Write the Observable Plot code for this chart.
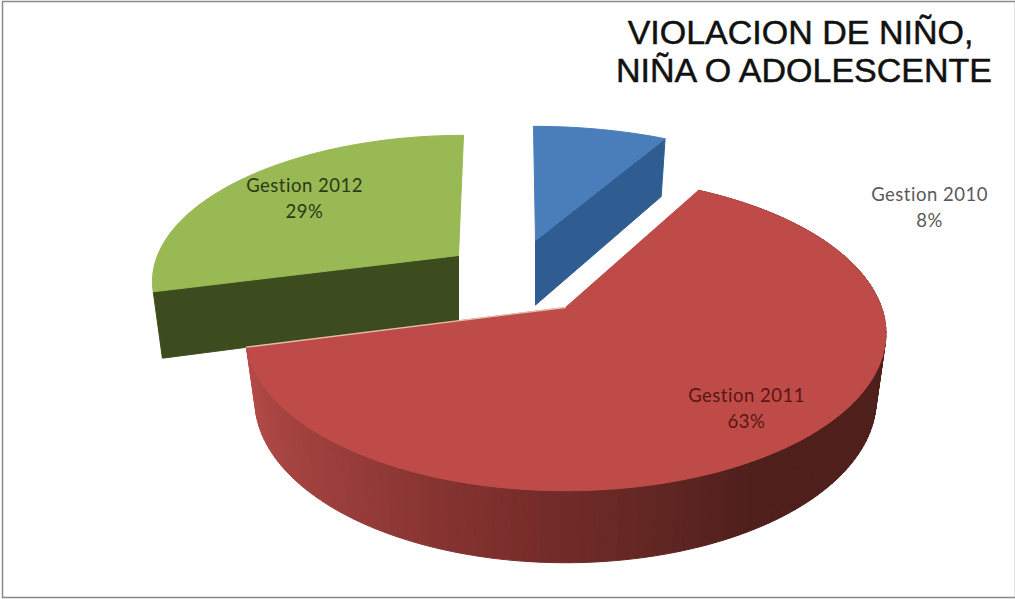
<!DOCTYPE html>
<html>
<head>
<meta charset="utf-8">
<script src="https://cdn.jsdelivr.net/npm/d3@7"></script>
<script src="https://cdn.jsdelivr.net/npm/@observablehq/plot@0.6"></script>
<style>
  html, body { margin: 0; padding: 0; background: #fff; }
  svg { display: block; }
  .slice-label text, .slice-label { letter-spacing: 0.5px; font-variant-ligatures: none; }
</style>
</head>
<body>
<div id="chart"></div>
<script>
// Data
const categories = ["Gestion 2010", "Gestion 2011", "Gestion 2012"];
const values = [8, 63, 29];
const titleLines = ["VIOLACION DE NIÑO,", "NIÑA O ADOLESCENTE"];

// Appearance of the exploded perspective pie
const topColors = ["#4a7ebb", "#be4b48", "#98b954"];
const sideColors = ["#2f5d92", "#b54a47", "#3d4c1f"];
const labelColors = ["#595959", "#5a1612", "#2b3a12"];
const sliceCx = [535, 565, 458];
const sliceCy = [240, 307, 255];
const sliceRx = [312, 316, 301];
const sliceRy = [133, 153, 140];
const sliceSkew = [-2, 0, 5];
const labelX = [929, 746, 304];
const labelY = [195, 396, 186];
const wallStops = [255, 220, 190, 165, 150];
const wallShades = ["#b54a47", "#9a3e3b", "#7b2e2b", "#5f2622", "#4f1f1b"];
const perspective = 0.165;

const arcs = d3.pie().sort(null).startAngle(0).endAngle(2 * Math.PI)(values);
const wallColor = d3.scaleLinear().domain(wallStops).range(wallShades).clamp(true);

function topPoint(i, a, r = 1) {
  const u = r * Math.sin(a), v = r * Math.cos(a), s = 1 / (1 + perspective * v);
  return [sliceCx[i] + sliceRx[i] * u * s + sliceSkew[i] * v, sliceCy[i] - sliceRy[i] * v * s];
}
function basePoint(i, a, r = 1) {
  const [x, y] = topPoint(i, a, r);
  return [sliceCx[i] + (x - sliceCx[i]) * 0.97, y + 64.5 - 7.5 * r * Math.cos(a)];
}
function arcAngles(a0, a1) {
  const n = Math.max(2, Math.ceil((a1 - a0) / (Math.PI / 120)));
  return d3.range(n + 1).map(k => a0 + (a1 - a0) * k / n);
}

const polys = [];
function addPoly(id, color, pts) {
  [...pts, pts[0]].forEach(p => polys.push({id, color, x: p[0], y: p[1]}));
}
function addTop(i) {
  const a = arcs[i];
  addPoly("top" + i, topColors[i],
    [topPoint(i, 0, 0), ...arcAngles(a.startAngle, a.endAngle).map(t => topPoint(i, t))]);
}
function addRadialWall(i, t) {
  addPoly("radial" + i, sideColors[i],
    [topPoint(i, t, 0), topPoint(i, t), basePoint(i, t), basePoint(i, t, 0)]);
}

// Painter's order: green, blue, then the big red slice on top
addRadialWall(2, arcs[2].startAngle);
addTop(2);
addRadialWall(0, arcs[0].endAngle);
addTop(0);
{
  const a = arcs[1], ts = arcAngles(a.startAngle, a.endAngle);
  ts.slice(1).forEach((t, k) => {
    const t0 = ts[k];
    addPoly("wall" + k, wallColor(t * 180 / Math.PI),
      [topPoint(1, t0), topPoint(1, t), basePoint(1, t), basePoint(1, t0)]);
  });
  addTop(1);
}

const seam = [topPoint(1, 0, 0), topPoint(1, arcs[1].endAngle)].map(p => ({x: p[0], y: p[1]}));

const labels = categories.flatMap((c, i) => [
  {text: c, x: labelX[i], y: labelY[i], color: labelColors[i]},
  {text: values[i] + "%", x: labelX[i], y: labelY[i] + 26, color: labelColors[i]}
]);
const titles = titleLines.map((t, i) => ({text: t, x: [800, 803.5][i], y: [33, 71][i]}));

const plot = Plot.plot({
  width: 1015,
  height: 599,
  margin: 0,
  x: {domain: [0, 1015], range: [0, 1015], axis: null},
  y: {domain: [0, 599], range: [0, 599], axis: null},
  color: {type: "identity"},
  style: {background: "#fff"},
  marks: [
    Plot.line(polys, {x: "x", y: "y", z: "id", fill: "color", stroke: "color", strokeWidth: 1, curve: "linear"}),
    Plot.line(seam, {x: "x", y: "y", stroke: "#e6c9b4", strokeWidth: 1.3, strokeOpacity: 0.9}),
    Plot.text(labels, {x: "x", y: "y", text: "text", fill: "color", fontFamily: "Lato", fontSize: 18.5, className: "slice-label"}),
    Plot.text(titles, {x: "x", y: "y", text: "text", fill: "#111", fontFamily: "Liberation Sans", fontSize: 34, stroke: "#111", strokeWidth: 0.5}),
    Plot.frame({stroke: "#8a8a8a", strokeWidth: 1.5, insetLeft: 2, insetTop: 1, insetBottom: 2, insetRight: 0})
  ]
});
document.getElementById("chart").appendChild(plot);
</script>
</body>
</html>
